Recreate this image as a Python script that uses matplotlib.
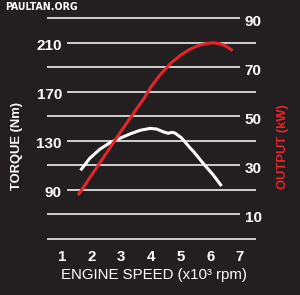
import matplotlib
matplotlib.use("Agg")
import matplotlib.pyplot as plt

# ---- data ----
torque_rpm = [1.63, 1.94, 2.28, 2.62, 2.95, 3.29, 3.63, 3.97, 4.19, 4.41, 4.58, 4.70,
              4.81, 5.03, 5.31, 5.43, 5.76, 6.10, 6.38]
torque_nm = [106.0, 115.8, 123.2, 128.5, 132.1, 135.6, 138.6, 140.2, 139.7, 137.5, 136.2,
             137.0, 136.4, 132.5, 124.5, 121.5, 111.7, 102.2, 93.2]

power_rpm = [1.55, 2.0, 2.5, 3.0, 3.5, 3.75, 4.0, 4.3, 4.65, 5.0, 5.3, 5.65, 5.9, 6.1,
             6.3, 6.45, 6.6, 6.75]
power_kw = [17.9, 26.0, 35.0, 44.0, 52.8, 57.0, 62.0, 66.8, 71.5, 75.0, 77.3, 79.1,
            79.8, 80.0, 79.7, 79.1, 78.1, 76.8]

x_ticks = [1, 2, 3, 4, 5, 6, 7]
torque_labels = [210, 170, 130, 90]
power_labels = [90, 70, 50, 30, 10]
grid_torque = [230, 210, 190, 170, 150, 130, 110, 90, 70, 50]

BG = "#231f20"
RED = "#e3262b"
GRID = "#cfcfcf"

W, H = 300, 295
fig = plt.figure(figsize=(W / 100, H / 100), dpi=100, facecolor=BG)

left_px, right_px = 47, 256
top_px, bot_px = 12.2, 245.1
ax = fig.add_axes([left_px / W, 1 - bot_px / H, (right_px - left_px) / W, (bot_px - top_px) / H])
ax.set_facecolor(BG)
ax.set_xlim(0.5, 7.54)
ax.set_ylim(45, 235)
for s in ax.spines.values():
    s.set_visible(False)

# grid lines with staggered extents
short_left = 1.17
for i, g in enumerate(grid_torque):
    if g == 50:
        x0, x1 = 0.5, 7.54
    elif i % 2 == 0:
        x0, x1 = 0.5, 7.0
    else:
        x0, x1 = short_left, 7.54
    ax.hlines(g, x0, x1, color=GRID, lw=1.4, clip_on=False, zorder=1)

ax.plot(torque_rpm, torque_nm, color="white", lw=2.2, solid_capstyle="butt",
        solid_joinstyle="round", zorder=3)

ax2 = ax.twinx()
ax2.set_ylim(-2.5, 92.5)
for s in ax2.spines.values():
    s.set_visible(False)
ax2.plot(power_rpm, power_kw, color=RED, lw=2.2, solid_capstyle="butt",
         solid_joinstyle="round", zorder=3)

ax.set_yticks([])
ax2.set_yticks([])

tick_font = dict(family="Liberation Sans", weight="bold", size=11, color="white")
for v in torque_labels:
    ax.annotate(str(v), xy=(short_left, v), xytext=(-3.6, -2.2), textcoords="offset points",
                ha="right", va="center", **tick_font)
for v in power_labels:
    ax2.annotate(str(v), xy=(7.0, v), xytext=(3.4, -2.9), textcoords="offset points",
                 ha="left", va="center", **tick_font)

ax.set_xticks(x_ticks)
ax.set_xticklabels([str(t) for t in x_ticks], fontfamily="Liberation Sans",
                   fontweight="bold", fontsize=10.8, color="white")
ax.tick_params(axis="x", length=0, pad=3.4)

fig.text(153.7 / W, 1 - 275 / H, "ENGINE SPEED (x10³ rpm)", ha="center", va="center",
         family="Liberation Sans", size=10.8, color="white")
fig.text(17 / W, 1 - 146 / H, "TORQUE (Nm)", rotation=90, ha="center", va="center",
         family="Liberation Sans", weight="bold", size=9.4, color="white")
fig.text(283 / W, 1 - 146.5 / H, "OUTPUT (kW)", rotation=90, ha="center", va="center",
         family="Liberation Sans", weight="bold", size=9.4, color=RED)
fig.text(4.7 / W, 1 - 7.5 / H, "PAULTAN.ORG", ha="left", va="center",
         family="DejaVu Sans", stretch="condensed", weight="bold", size=7.6, color="white")

fig.savefig("out.png", dpi=100, facecolor=BG)
